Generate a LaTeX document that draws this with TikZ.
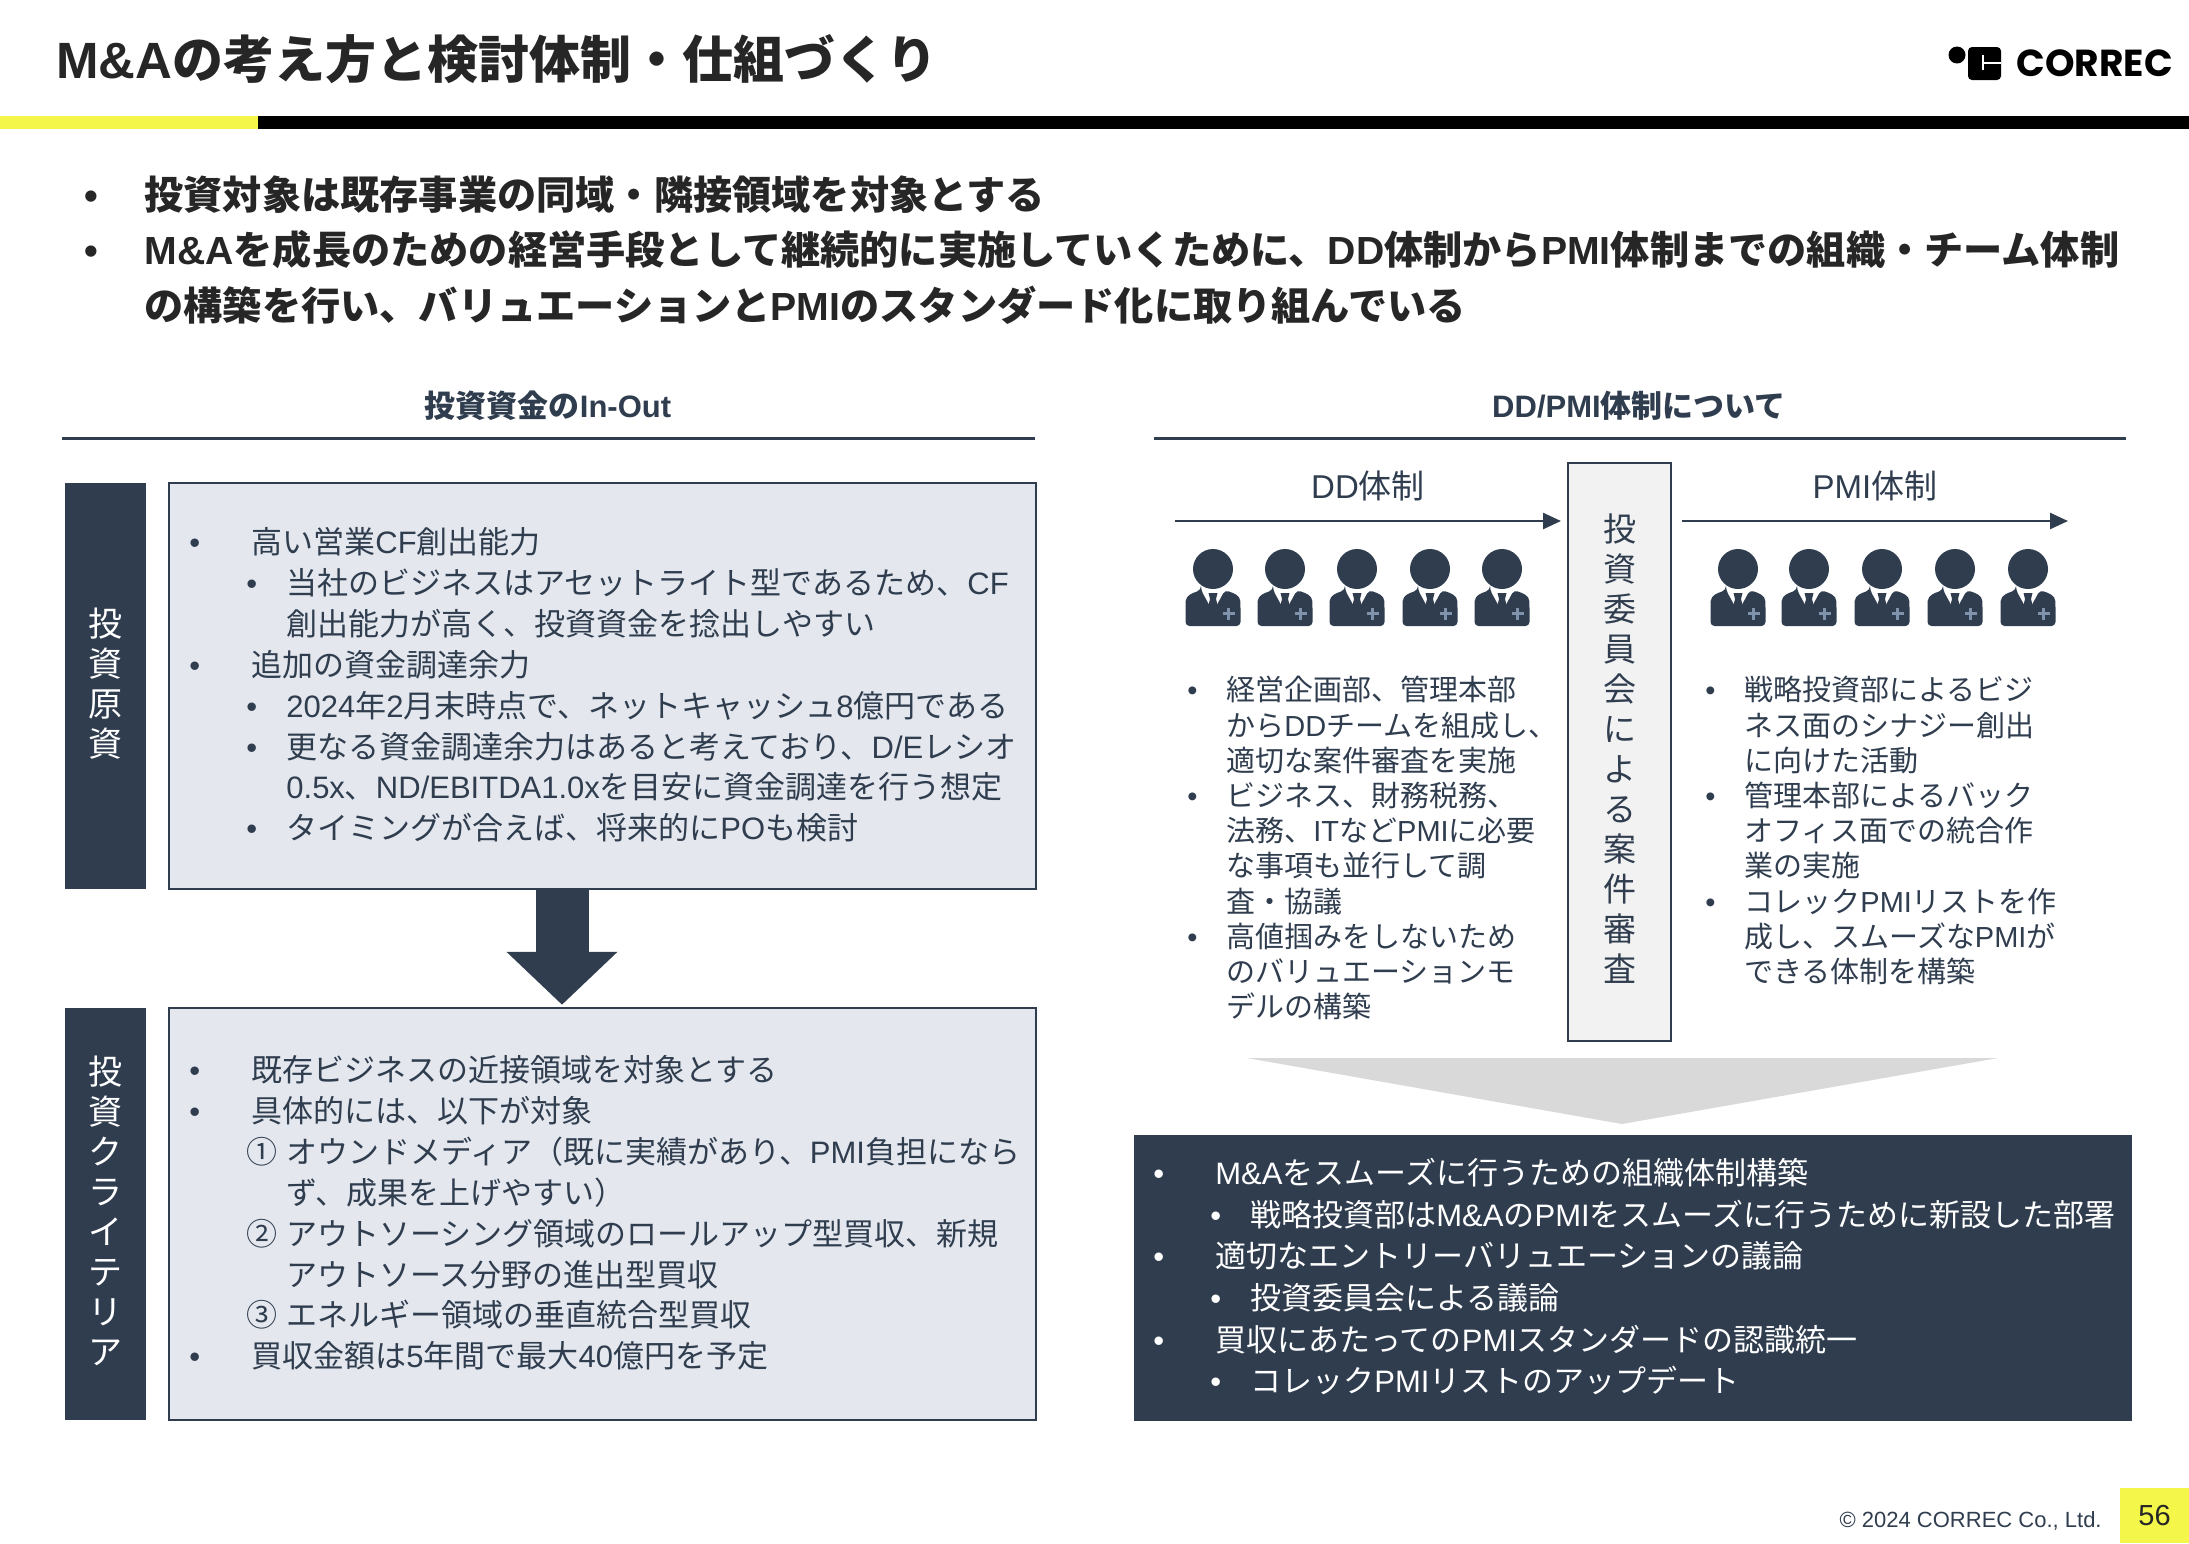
\documentclass[tikz,border=0pt]{standalone}
\usepackage{fontspec}
\usepackage{xcolor}
\usetikzlibrary{positioning, arrows.meta}
\setmainfont{Noto Sans CJK JP}
\newfontfamily\latfont{Liberation Sans}
\newfontfamily\logofont{Poppins}
\definecolor{navyblue}{RGB}{47,61,79}
\definecolor{paleblue}{RGB}{228,232,238}
\definecolor{lightgray}{RGB}{242,242,242}
\definecolor{wedgegray}{RGB}{217,217,217}
\definecolor{accentyellow}{RGB}{244,246,74}
\definecolor{darktext}{RGB}{38,38,38}
\definecolor{plusblue}{RGB}{127,147,173}
\newcommand{\lat}[1]{{\latfont #1}}
\newcommand{\ia}[1]{\makebox[31pt][l]{\lat{•}}#1}
\newcommand{\ib}[1]{\hspace*{28.5pt}\makebox[20pt][l]{\lat{•}}#1}
\newcommand{\ic}[1]{\hspace*{48.5pt}#1}
\newcommand{\inum}[2]{\hspace*{28.5pt}\makebox[20pt][l]{#1}#2}
\newcommand{\ja}[1]{\makebox[19.5pt][l]{\lat{•}}#1}
\newcommand{\jb}[1]{\hspace*{19.5pt}#1}

\begin{document}
\begin{tikzpicture}[
    x=0.5pt, y=-0.5pt,
    infobox/.style={rectangle, draw=navyblue, line width=1.25pt, fill=paleblue, minimum width=433.5pt, inner sep=0pt},
    tagbox/.style={rectangle, fill=navyblue, minimum width=40.5pt, inner sep=0pt, text=white, align=center, text depth=4pt, font=\fontsize{17}{20}\selectfont},
    listtext/.style={anchor=north west, inner sep=0pt, align=left, text=navyblue, font=\fontsize{15.5}{20.45}\selectfont},
    sidetext/.style={anchor=north west, inner sep=0pt, align=left, text=navyblue, font=\fontsize{14.5}{17.6}\selectfont},
    headtext/.style={inner sep=0pt, text=navyblue, font=\fontsize{15.5}{18}\selectfont\bfseries},
    teamtext/.style={inner sep=0pt, text=navyblue, font=\fontsize{16.5}{20}\selectfont},
    arrow/.style={-{Triangle[length=9pt, width=8pt]}, line width=1.25pt, draw=navyblue},
    person/.pic={
        \fill[navyblue] (0,0) circle (20);
        \fill[navyblue, rounded corners=2pt] (-12,21) -- (0,43) -- (12,21) .. controls (20,24) and (27,26) .. (27.5,36) -- (27.5,57) -- (-27.5,57) -- (-27.5,36) .. controls (-27,26) and (-20,24) .. cycle;
        \fill[navyblue] (-4.5,24) -- (4.5,24) -- (3,30) -- (5,38) -- (0,43) -- (-5,38) -- (-3,30) -- cycle;
        \draw[plusblue, line width=1.5pt] (9.5,44.5) -- (21.5,44.5) (15.5,38.5) -- (15.5,50.5);
    }
]
    \useasboundingbox (0,0) rectangle (2189,1543);

    % header
    \node[anchor=west, inner sep=0pt, text=darktext, font=\fontsize{25.5}{30}\selectfont\bfseries] (title) at (56,59) {\lat{M\&A}の考え方と検討体制・仕組づくり};
    \fill[accentyellow] (0,116) rectangle (258,129);
    \fill[black] (258,116) rectangle (2189,129);
    \fill[black] (1957,55) circle (8.5);
    \fill[black, rounded corners=2pt] (1968,47) rectangle (2001,80);
    \draw[white, line width=0.7pt] (1983,55) -- (1983,70) (1983,63) -- (2001,63);
    \node[anchor=west, inner sep=0pt, font=\logofont\bfseries\fontsize{18.8}{20}\selectfont] (logo) at (2016,63) {CORREC};

    % lead text
    \node[anchor=north west, inner sep=0pt, align=left, text=darktext, font=\fontsize{19.6}{27.9}\selectfont\bfseries] (lead) at (84,175) {%
        \makebox[30pt][l]{\lat{•}}投資対象は既存事業の同域・隣接領域を対象とする\\
        \makebox[30pt][l]{\lat{•}}\lat{M\&A}を成長のための経営手段として継続的に実施していくために、\lat{DD}体制から\lat{PMI}体制までの組織・チーム体制\\
        \hspace*{30pt}の構築を行い、バリュエーションと\lat{PMI}のスタンダード化に取り組んでいる};

    % left column
    \node[headtext] (inouthead) at (548,406) {投資資金の\lat{In-Out}};
    \draw[navyblue, line width=1.5pt] (62,438) -- (1035,438);
    \node[infobox, minimum height=203pt] (srcbox) at (602.5,686) {};
    \node[tagbox, minimum height=203pt, left=10.6pt of srcbox] (srctag) {投\\資\\原\\資};
    \node[infobox, minimum height=206pt] (critbox) at (602.5,1214) {};
    \node[tagbox, minimum height=206pt, left=10.6pt of critbox] (crittag) {投\\資\\ク\\ラ\\イ\\テ\\リ\\ア};
    \draw[navyblue, line width=26.5pt, -{Triangle[length=26.5pt, width=54pt]}, shorten >=1pt] ([xshift=-20.25pt]srcbox.south) -- ([xshift=-20.25pt]critbox.north);

    \node[listtext] (srctext) at (189,527) {%
        \ia{高い営業\lat{CF}創出能力}\\
        \ib{当社のビジネスはアセットライト型であるため、\lat{CF}}\\
        \ic{創出能力が高く、投資資金を捻出しやすい}\\
        \ia{追加の資金調達余力}\\
        \ib{\lat{2024}年\lat{2}月末時点で、ネットキャッシュ\lat{8}億円である}\\
        \ib{更なる資金調達余力はあると考えており、\lat{D/E}レシオ}\\
        \ic{\lat{0.5x}、\lat{ND/EBITDA1.0x}を目安に資金調達を行う想定}\\
        \ib{タイミングが合えば、将来的に\lat{PO}も検討}};
    \node[listtext] (crittext) at (189,1055) {%
        \ia{既存ビジネスの近接領域を対象とする}\\
        \ia{具体的には、以下が対象}\\
        \inum{①}{オウンドメディア（既に実績があり、\lat{PMI}負担になら}\\
        \ic{ず、成果を上げやすい）}\\
        \inum{②}{アウトソーシング領域のロールアップ型買収、新規}\\
        \ic{アウトソース分野の進出型買収}\\
        \inum{③}{エネルギー領域の垂直統合型買収}\\
        \ia{買収金額は\lat{5}年間で最大\lat{40}億円を予定}};

    % right column
    \node[headtext] (ddhead) at (1639,406) {\lat{DD/PMI}体制について};
    \draw[navyblue, line width=1.5pt] (1154,438) -- (2126,438);
    \node[rectangle, draw=navyblue, line width=1.25pt, fill=lightgray, minimum width=51.5pt, minimum height=289pt, inner sep=0pt, text=navyblue, align=center, text depth=4pt, font=\fontsize{16.5}{20}\selectfont] (cmtbox) at (1619.5,752) {投\\資\\委\\員\\会\\に\\よ\\る\\案\\件\\審\\査};
    \node[teamtext] (ddlabel) at (1368,486) {\lat{DD}体制};
    \node[teamtext] (pmilabel) at (1875,486) {\lat{PMI}体制};
    \coordinate (ddstart) at (1175,521);
    \coordinate (ddend) at (1561,521);
    \coordinate (pmistart) at (1682,521);
    \coordinate (pmiend) at (2068,521);
    \draw[arrow] (ddstart) -- (ddend);
    \draw[arrow] (pmistart) -- (pmiend);
    \foreach \px in {1213,1285,1357,1430,1502,1738,1809,1882,1955,2028}
        \pic at (\px,569) {person};

    \node[sidetext] (ddtext) at (1187,676) {%
        \ja{経営企画部、管理本部}\\
        \jb{から\lat{DD}チームを組成し、}\\
        \jb{適切な案件審査を実施}\\
        \ja{ビジネス、財務税務、}\\
        \jb{法務、\lat{IT}など\lat{PMI}に必要}\\
        \jb{な事項も並行して調}\\
        \jb{査・協議}\\
        \ja{高値掴みをしないため}\\
        \jb{のバリュエーションモ}\\
        \jb{デルの構築}};
    \node[sidetext] (pmitext) at (1705,676) {%
        \ja{戦略投資部によるビジ}\\
        \jb{ネス面のシナジー創出}\\
        \jb{に向けた活動}\\
        \ja{管理本部によるバック}\\
        \jb{オフィス面での統合作}\\
        \jb{業の実施}\\
        \ja{コレック\lat{PMI}リストを作}\\
        \jb{成し、スムーズな\lat{PMI}が}\\
        \jb{できる体制を構築}};

    \fill[wedgegray] (1247,1058) -- (1998,1058) -- (1622,1124) -- cycle;
    \node[rectangle, fill=navyblue, minimum width=499pt, minimum height=143pt, inner sep=0pt] (planbox) at (1633,1278) {};
    \node[listtext, text=white, font=\fontsize{15.5}{20.8}\selectfont] (plantext) at (1153,1158) {%
        \ia{\lat{M\&A}をスムーズに行うための組織体制構築}\\
        \ib{戦略投資部は\lat{M\&A}の\lat{PMI}をスムーズに行うために新設した部署}\\
        \ia{適切なエントリーバリュエーションの議論}\\
        \ib{投資委員会による議論}\\
        \ia{買収にあたっての\lat{PMI}スタンダードの認識統一}\\
        \ib{コレック\lat{PMI}リストのアップデート}};

    % footer
    \node[anchor=east, inner sep=0pt, text=navyblue, font=\latfont\fontsize{11}{13}\selectfont] (copy) at (2102,1521) {© 2024 CORREC Co., Ltd.};
    \node[rectangle, fill=accentyellow, minimum width=34.5pt, minimum height=27.5pt, inner sep=0pt, text=darktext, font=\latfont\fontsize{14.5}{16}\selectfont] (pageno) at (2154.5,1515.5) {56};
\end{tikzpicture}
\end{document}
